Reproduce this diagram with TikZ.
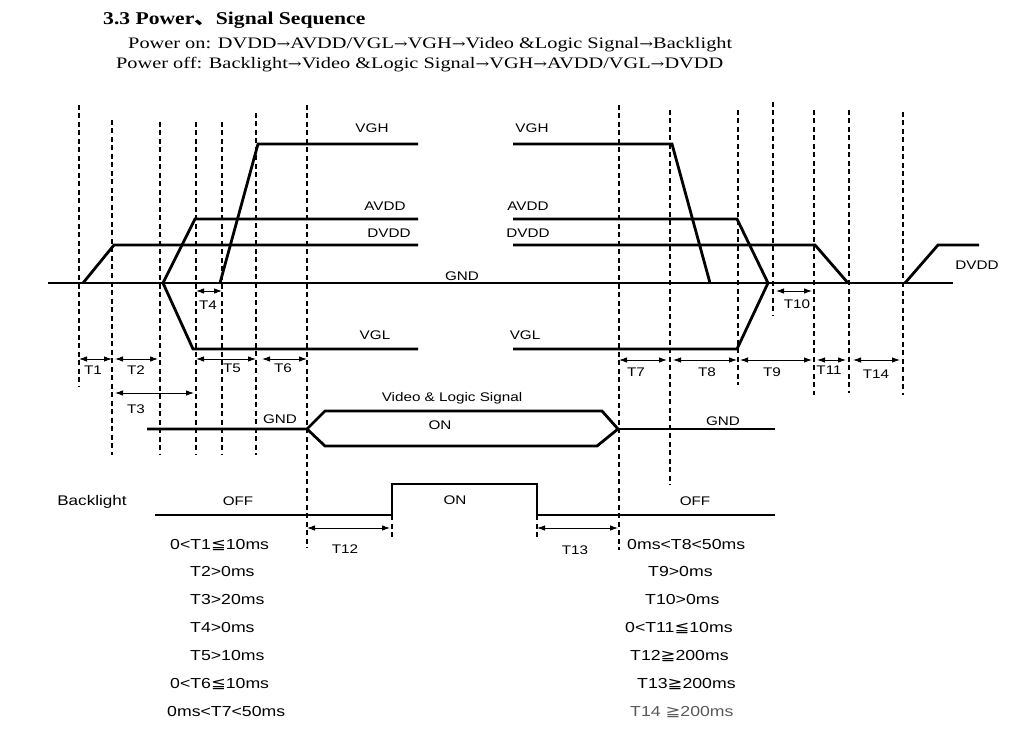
\documentclass[tikz,border=0pt]{standalone}
\usepackage{fontspec}
\usepackage{graphicx}
\setmainfont{Liberation Serif}
\setsansfont{Liberation Sans}
\newfontfamily\cjk{Noto Sans CJK SC}
\newfontfamily\dejav{DejaVu Sans}
\newfontfamily\dejaserif{DejaVu Serif}
\newcommand\Wd[1]{\scalebox{1.22}[1]{#1}}
\newcommand\Wh[1]{\scalebox{1.2}[1]{#1}}
\newcommand\Wl[1]{\scalebox{1.27}[1]{#1}}
\newcommand\ar{{\dejaserif\fontsize{13}{13}\selectfont →}}
\usetikzlibrary{arrows.meta}
\begin{document}
\begin{tikzpicture}[x=1pt,y=-1pt,
  sig/.style={line width=2.8pt},
  guide/.style={line width=1.4pt,dash pattern=on 5pt off 3.5pt},
  dim/.style={line width=0.9pt,{Latex[length=8pt,width=5.5pt]}-{Latex[length=8pt,width=5.5pt]}},
  lab/.style={font=\sffamily\fontsize{12.5}{12.5}\selectfont,inner sep=0pt},
  cond/.style={font=\sffamily\fontsize{14.5}{14.5}\selectfont,inner sep=0pt,anchor=west}]
\useasboundingbox (0,0) rectangle (1014,735);
% header
\node[anchor=west,inner sep=0pt,font=\bfseries\fontsize{18}{18}\selectfont] (hd) at (103,20) {\Wh{3.3 Power{\cjk 、}Signal Sequence}};
\node[anchor=west,inner sep=0pt,font=\fontsize{16}{16}\selectfont] (pon) at (128,45) {\Wl{Power on: DVDD\ar AVDD/VGL\ar VGH\ar Video \&Logic Signal\ar Backlight}};
\node[anchor=west,inner sep=0pt,font=\fontsize{16}{16}\selectfont] (poff) at (116,65) {\Wl{Power off: Backlight\ar Video \&Logic Signal\ar VGH\ar AVDD/VGL\ar DVDD}};
% dashed guides
\foreach \x/\a/\b in {79/105/387,112/120/455,160/122/455,196/122/455,222/122/455,256/113/455,307/105/548,
  619/105/550,670/110/485,738/110/385,773/102/315,814/110/395,849/110/393,903/112/395}
  \draw[guide] (\x,\a) -- (\x,\b);
% GND
\draw[sig] (48,283) -- (953,283);
\node[lab] (gnd) at (462,276) {\Wd{GND}};
% left power-on
\draw[sig] (83,283) -- (114,245) -- (418,245);
\draw[sig] (163,283) -- (195,219) -- (418,219);
\draw[sig] (163,283) -- (193,349) -- (418,349);
\draw[sig] (220,283) -- (258,144) -- (418,144);
\node[lab] (vgh1) at (372,128) {\Wd{VGH}};
\node[lab] (avdd1) at (385,206) {\Wd{AVDD}};
\node[lab] (dvdd1) at (389,233) {\Wd{DVDD}};
\node[lab] (vgl1) at (375,335) {\Wd{VGL}};
% right power-off
\draw[sig] (513,144) -- (672,144) -- (710,283);
\draw[sig] (513,219) -- (737,219) -- (768,283);
\draw[sig] (513,349) -- (737,349) -- (768,283);
\draw[sig] (513,245) -- (815,245) -- (848,283);
\draw[sig] (905,283) -- (938,245) -- (979,245);
\node[lab] (vgh2) at (532,128) {\Wd{VGH}};
\node[lab] (avdd2) at (528,206) {\Wd{AVDD}};
\node[lab] (dvdd2) at (528,233) {\Wd{DVDD}};
\node[lab] (vgl2) at (525,335) {\Wd{VGL}};
\node[lab] (dvdd3) at (977,265) {\Wd{DVDD}};
% timing arrows
\foreach \a/\b/\y/\t/\lx/\ly in {79/112/359/T1/93/370, 115/158/359/T2/136/370, 196/256/359/T5/232/368,
  262/307/359/T6/283/368, 115/194/393/T3/136/409, 196/222/291/T4/208/305,
  619/667/360/T7/636/372, 673/737/360/T8/707/372, 740/812/360/T9/772/372, 817/846/360/T11/829/370,
  853/900/360/T14/876/374, 776/812/291/T10/797/304, 307/390/528/T12/345/549, 537/618/528/T13/575/550}
  {\draw[dim] (\a,\y) -- (\b,\y); \node[lab] at (\lx,\ly) {\Wd{\t}};}
% Video & Logic
\draw[sig] (147,429) -- (307,429) -- (325,411) -- (602,411) -- (618,429) -- (597,446) -- (325,446) -- (307,429);
\draw[sig] (618,429) -- (775,429);
\node[lab] (gnd2) at (280,419) {\Wd{GND}};
\node[lab] (vls) at (452,398) {\Wd{Video \& Logic Signal}};
\node[lab] (on1) at (440,425) {\Wd{ON}};
\node[lab] (gnd3) at (723,421) {\Wd{GND}};
% Backlight
\draw[sig] (155,515) -- (392,515) -- (392,484) -- (537,484) -- (537,515) -- (775,515);
\draw[guide] (392,515) -- (392,540);
\draw[guide] (537,515) -- (537,540);
\node[lab,font=\sffamily\fontsize{14}{14}\selectfont] (bl) at (92,502) {\Wd{Backlight}};
\node[lab] (off1) at (238,501) {\Wd{OFF}};
\node[lab] (on2) at (455,500) {\Wd{ON}};
\node[lab] (off2) at (695,501) {\Wd{OFF}};
% conditions
\node[cond] at (170,545) {\Wd{0<T1{\dejav≦}10ms}};
\node[cond] at (190,572) {\Wd{T2>0ms}};
\node[cond] at (190,600) {\Wd{T3>20ms}};
\node[cond] at (190,628) {\Wd{T4>0ms}};
\node[cond] at (190,656) {\Wd{T5>10ms}};
\node[cond] at (170,684) {\Wd{0<T6{\dejav≦}10ms}};
\node[cond] at (167,712) {\Wd{0ms<T7<50ms}};
\node[cond] at (627,545) {\Wd{0ms<T8<50ms}};
\node[cond] at (648,572) {\Wd{T9>0ms}};
\node[cond] at (645,600) {\Wd{T10>0ms}};
\node[cond] at (625,628) {\Wd{0<T11{\dejav≦}10ms}};
\node[cond] at (630,656) {\Wd{T12{\dejav≧}200ms}};
\node[cond] at (637,684) {\Wd{T13{\dejav≧}200ms}};
\node[cond,text=black!65] at (630,712) {\Wd{T14 {\dejav≧}200ms}};
\end{tikzpicture}
\end{document}
